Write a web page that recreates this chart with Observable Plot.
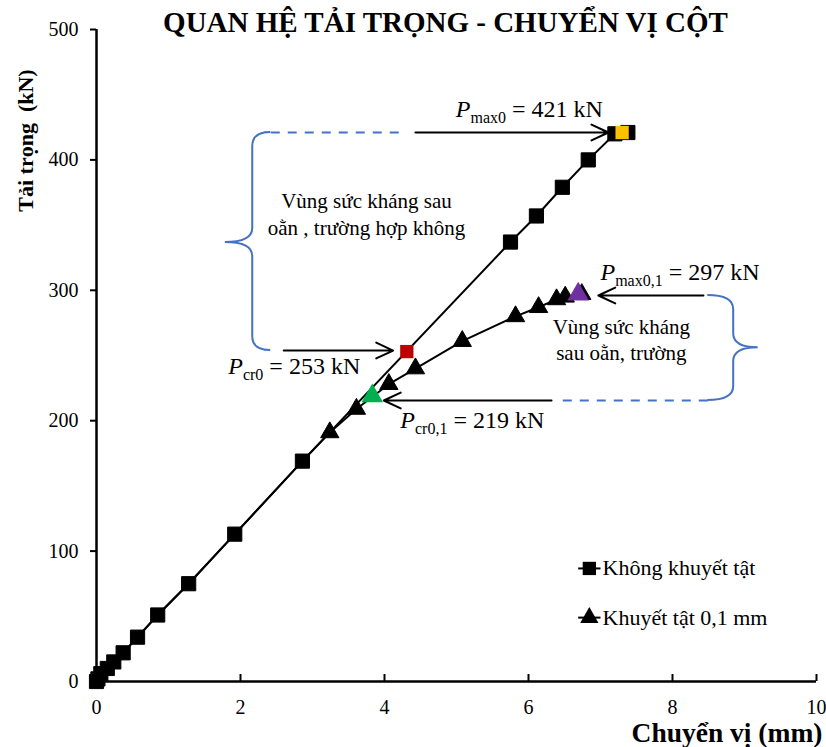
<!DOCTYPE html>
<html><head><meta charset="utf-8">
<script src="https://cdn.jsdelivr.net/npm/d3@7"></script>
<script src="https://cdn.jsdelivr.net/npm/@observablehq/plot@0.6"></script>
<style>body{margin:0;background:#fff}#chart{width:826px;height:747px}#chart svg text{font-family:'Liberation Serif','Times New Roman',serif}</style>
</head><body><div id="chart"></div>
<script>
// ---- text ----
const title = "QUAN HỆ TẢI TRỌNG - CHUYỂN VỊ CỘT";
const xTitle = "Chuyển vị (mm)";
const yTitle = "Tải trọng  (kN)";
const xTicks = [0, 2, 4, 6, 8, 10];
const yTicks = [0, 100, 200, 300, 400, 500];
const seriesNames = ["Không khuyết tật", "Khuyết tật 0,1 mm"];

// ---- series: Không khuyết tật (squares) ----
const disp0 = [0, 0.02, 0.06, 0.15, 0.24, 0.37, 0.57, 0.85, 1.28, 1.92, 2.86, 5.75, 6.11, 6.47, 6.83, 7.2, 7.38];
const load0 = [0, 2, 6, 10, 15, 22, 34, 51, 75, 113, 169, 337, 357, 379, 400, 420, 421];

// ---- series: Khuyết tật 0,1 mm (triangles) ----
const disp1 = [0, 0.02, 0.06, 0.15, 0.24, 0.37, 0.57, 0.85, 1.28, 1.92, 2.86, 3.24, 3.61, 4.06, 4.43, 5.08, 5.82, 6.14, 6.39, 6.51, 6.74];
const load1 = [0, 2, 6, 10, 15, 22, 34, 51, 75, 113, 169, 191, 209, 228, 240, 261, 280, 287, 293, 295, 297];

// ---- highlighted points ----
const hlX = [7.3, 4.31, 3.83, 6.69];
const hlY = [421, 253, 219, 297];
const hlColor = ["#FFC000", "#C00000", "#00B050", "#7030A0"];
const hlSymbol = ["square", "square", "triangle", "triangle"];

// ---- annotation labels (P|sub|rest) ----
const annText = ["P|max0| = 421 kN", "P|cr0| = 253 kN", "P|cr0,1| = 219 kN", "P|max0,1| = 297 kN"];
const annX = [4.99, 1.83, 4.22, 7.0];
const annY = [438.6, 241.6, 200, 313.6];

const zoneText = ["Vùng sức kháng sau", "oằn , trường hợp không", "Vùng sức kháng", "sau oằn, trường"];
const zoneX = [3.75, 3.75, 7.29, 7.29];
const zoneY = [368, 347.4, 271.5, 251.5];

// arrows
const arrX1 = [4.43, 2.60, 8.43, 6.32];
const arrX2 = [7.11, 4.12, 6.97, 3.99];
const arrY = [421, 253.8, 296, 215.5];
// dashed blue connectors
const dashX1 = [2.42, 8.49];
const dashX2 = [4.22, 6.38];
const dashY = [421, 215.5];
// braces
const braceX = [2.17, 8.85], braceTipX = [1.79, 9.19], braceHookX = [2.42, 8.49];
const braceY1 = [421, 296], braceY2 = [253.8, 215.5], braceTipY = [336.7, 256];

// legend
const legendX1 = 6.69, legendX2 = 7.0, legendY = [86.7, 49];

// ---- build ----
const sq = disp0.map((x, i) => ({x, y: load0[i]}));
const tr = disp1.map((x, i) => ({x, y: load1[i]}));
const key = new Set(sq.map(d => d.x + "," + d.y));
const trOwn = tr.filter(d => !key.has(d.x + "," + d.y));
const hl = hlX.map((x, i) => ({x, y: hlY[i], c: hlColor[i], s: hlSymbol[i]}));
const ann = annText.map((t, i) => ({t, x: annX[i], y: annY[i]}));
const zones = zoneText.map((t, i) => ({t, x: zoneX[i], y: zoneY[i]}));
const arrows = arrX1.map((x1, i) => ({x1, x2: arrX2[i], y: arrY[i]}));
const dashes = dashX1.map((x1, i) => ({x1, x2: dashX2[i], y: dashY[i]}));
const legend = seriesNames.map((n, i) => ({n, y: legendY[i], s: i === 0 ? "square" : "triangle"}));

const serif = "'Liberation Serif', 'Times New Roman', serif";
const plot = Plot.plot({
  width: 826, height: 747,
  marginLeft: 96, marginRight: 10, marginTop: 29, marginBottom: 66,
  style: {fontFamily: serif, fontSize: "20px", color: "black", background: "white"},
  x: {domain: [0, 10], axis: null},
  y: {domain: [0, 500], axis: null},
  marks: [
    Plot.axisY({ticks: yTicks, tickSize: 6, tickPadding: 12, label: null, strokeWidth: 2}),
    Plot.axisX({ticks: xTicks, tickSize: 0, tickPadding: 18, label: null}),
    Plot.axisX({ticks: xTicks, tickSize: 7, tickFormat: () => "", dy: -7, label: null, strokeWidth: 2}),
    Plot.ruleX([0], {stroke: "black", strokeWidth: 2.5}),
    Plot.ruleY([0], {stroke: "black", strokeWidth: 2.5}),
    // connectors
    Plot.link(dashes, {x1: "x1", x2: "x2", y1: "y", y2: "y", stroke: "#4472C4", strokeWidth: 2, strokeDasharray: "9,8"}),
    Plot.arrow(arrows, {x1: "x1", x2: "x2", y1: "y", y2: "y", stroke: "black", strokeWidth: 2, headLength: 14, headAngle: 50}),
    // series lines
    Plot.line(tr, {x: "x", y: "y", stroke: "black", strokeWidth: 2}),
    Plot.line(sq, {x: "x", y: "y", stroke: "black", strokeWidth: 2}),
    Plot.dot(trOwn, {x: "x", y: "y", symbol: "triangle", r: 6.8, fill: "black", stroke: "black", strokeWidth: 1}),
    Plot.dot(sq, {x: "x", y: "y", symbol: "square", r: 8, fill: "black", stroke: "black", strokeWidth: 1, strokeLinejoin: "round"}),
    // highlights
    Plot.dot(hl.filter(d => d.s === "square"), {x: "x", y: "y", symbol: "square", r: 7.5, fill: "c"}),
    Plot.dot(hl.filter(d => d.s === "triangle"), {x: "x", y: "y", symbol: "triangle", r: 8, fill: "c"}),
    // annotation texts
    Plot.text(ann, {x: "x", y: "y", text: "t", textAnchor: "start", lineAnchor: "middle", fontSize: 24}),
    Plot.text(zones, {x: "x", y: "y", text: "t", lineAnchor: "middle", fontSize: 21}),
    // legend
    Plot.link(legend, {x1: () => legendX1, x2: () => legendX2, y1: "y", y2: "y", stroke: "black", strokeWidth: 2}),
    Plot.dot(legend.filter(d => d.s === "square"), {x: () => (legendX1 + legendX2) / 2, y: "y", symbol: "square", r: 7.5, fill: "black"}),
    Plot.dot(legend.filter(d => d.s === "triangle"), {x: () => (legendX1 + legendX2) / 2, y: "y", symbol: "triangle", r: 6.8, fill: "black"}),
    Plot.text(legend, {x: () => legendX2, y: "y", text: "n", textAnchor: "start", lineAnchor: "middle", dx: 2, fontSize: 22}),
    // titles
    Plot.text([title], {frameAnchor: "top", textAnchor: "middle", lineAnchor: "middle", dx: -11, dy: -7, fontSize: 29, fontWeight: "bold"}),
    Plot.text([xTitle], {frameAnchor: "bottom-right", textAnchor: "end", lineAnchor: "middle", dx: 6, dy: 52, fontSize: 27.5, fontWeight: "bold"}),
    Plot.text([yTitle], {frameAnchor: "top-left", textAnchor: "middle", lineAnchor: "middle", rotate: -90, dx: -71, dy: 111, fontSize: 22, fontWeight: "bold"})
  ]
});
document.getElementById("chart").appendChild(plot);

// ---- subscripts in annotation labels ----
const ns = "http://www.w3.org/2000/svg";
plot.querySelectorAll("text").forEach(t => {
  if (!t.textContent.includes("|")) return;
  const [p, sub, rest] = t.textContent.split("|");
  t.textContent = "";
  const a = document.createElementNS(ns, "tspan"); a.setAttribute("font-style", "italic"); a.textContent = p;
  const b = document.createElementNS(ns, "tspan"); b.setAttribute("font-size", "16"); b.setAttribute("dy", "6"); b.textContent = sub;
  const c = document.createElementNS(ns, "tspan"); c.setAttribute("dy", "-6"); c.textContent = rest;
  t.append(a, b, c);
});

// ---- braces drawn through the plot's scales ----
const sxo = plot.scale("x"), syo = plot.scale("y");
const sx = sxo.apply ? v => sxo.apply(v) : d3.scaleLinear(sxo.domain, sxo.range);
const sy = syo.apply ? v => syo.apply(v) : d3.scaleLinear(syo.domain, syo.range);
braceX.forEach((bx, i) => {
  const vx = sx(bx), tx = sx(braceTipX[i]), hx = sx(braceHookX[i]);
  const yt = sy(braceY1[i]), yb = sy(braceY2[i]), ym = sy(braceTipY[i]);
  const r = 14;
  const d = `M${hx},${yt} Q${vx},${yt} ${vx},${yt + r} L${vx},${ym - r} Q${vx},${ym} ${tx},${ym} Q${vx},${ym} ${vx},${ym + r} L${vx},${yb - r} Q${vx},${yb} ${hx},${yb}`;
  d3.select(plot).append("path").attr("d", d).attr("fill", "none").attr("stroke", "#4472C4").attr("stroke-width", 2);
});
</script>
</body></html>
